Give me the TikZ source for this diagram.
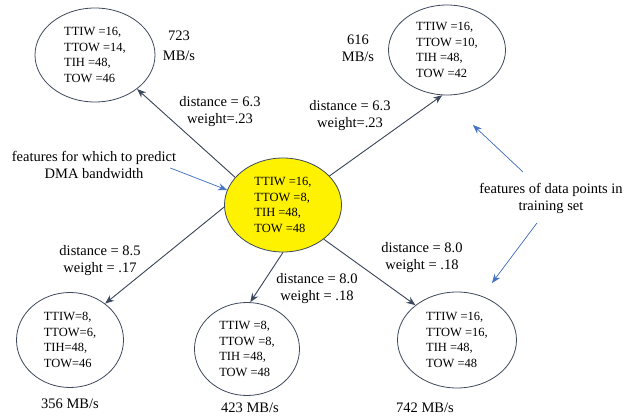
\documentclass[tikz,border=0pt]{standalone}
\usepackage{fontspec}
\setmainfont{Liberation Serif}
\usetikzlibrary{shapes.geometric,arrows.meta}
\definecolor{edgegray}{RGB}{60,72,92}
\definecolor{noteblue}{RGB}{68,114,196}

\begin{document}
\begin{tikzpicture}[x=1pt, y=-1pt,
pointnode/.style={ellipse, draw=edgegray, line width=0.8pt, align=left, inner sep=0pt, font=\fontsize{12.5}{15.5}\selectfont},
querynode/.style={pointnode, fill=yellow},
labelnode/.style={align=center, inner sep=0pt, font=\fontsize{14.5}{17}\selectfont},
edgearrow/.style={-{Stealth[length=9pt,width=7pt]}, draw=edgegray, fill=edgegray, line width=0.9pt},
notearrow/.style={-{Stealth[length=9pt,width=7pt]}, draw=noteblue, fill=noteblue, line width=0.7pt},
]
\useasboundingbox (0,0) rectangle (625,419);
%Nodes
\node[querynode, minimum width=117pt, minimum height=94pt] (Query) at (283,205) {TTIW =16,\\TTOW =8,\\TIH =48,\\TOW =48};
\node[pointnode, minimum width=120pt, minimum height=94pt] (PointA) at (95,55) {TTIW =16,\\TTOW =14,\\TIH =48,\\TOW =46};
\node[pointnode, minimum width=117pt, minimum height=90pt] (PointB) at (447,50) {TTIW =16,\\TTOW =10,\\TIH =48,\\TOW =42};
\node[pointnode, minimum width=107pt, minimum height=95pt] (PointC) at (70,340) {TTIW=8,\\TTOW=6,\\TIH=48,\\TOW=46};
\node[pointnode, minimum width=105pt, minimum height=93pt] (PointD) at (247,349) {TTIW =8,\\TTOW =8,\\TIH =48,\\TOW =48};
\node[pointnode, minimum width=119pt, minimum height=96pt] (PointE) at (457,340) {TTIW =16,\\TTOW =16,\\TIH =48,\\TOW =48};

\node[labelnode] (BwA) at (179,46) {723\\[3pt]MB/s};
\node[labelnode] (BwB) at (358,48) {616\\MB/s};
\node[labelnode] (BwC) at (70,404) {356 MB/s};
\node[labelnode] (BwD) at (250,408) {423 MB/s};
\node[labelnode] (BwE) at (425,408) {742 MB/s};

\node[labelnode] (WtA) at (220,112) {distance = 6.3\\weight=.23};
\node[labelnode] (WtB) at (350,116) {distance = 6.3\\weight=.23};
\node[labelnode] (WtC) at (100,261) {distance = 8.5\\weight = .17};
\node[labelnode] (WtD) at (317,289) {distance = 8.0\\weight = .18};
\node[labelnode] (WtE) at (422,258) {distance = 8.0\\weight = .18};

\node[labelnode] (NoteQuery) at (94,165) {features for which to predict\\DMA bandwidth};
\node[labelnode] (NoteTrain) at (551,198) {features of data points in\\training set};
\coordinate (TrainUp) at (473,125);
\coordinate (TrainDown) at (492,283);

%Lines
\draw[edgearrow] (Query.150) -- (PointA.-39);
\draw[edgearrow] (Query.32) -- (PointB.-96);
\draw[edgearrow] (Query.182) -- (PointC.46);
\draw[edgearrow] (Query.270) -- (PointD.86);
\draw[edgearrow] (Query.-40) -- (PointE.140);

\draw[notearrow] (NoteQuery.east |- 0,168) ++(-6,0) -- (Query.165);
\draw[notearrow] (523,172) -- (TrainUp);
\draw[notearrow] (537,223) -- (TrainDown);

\end{tikzpicture}
\end{document}
